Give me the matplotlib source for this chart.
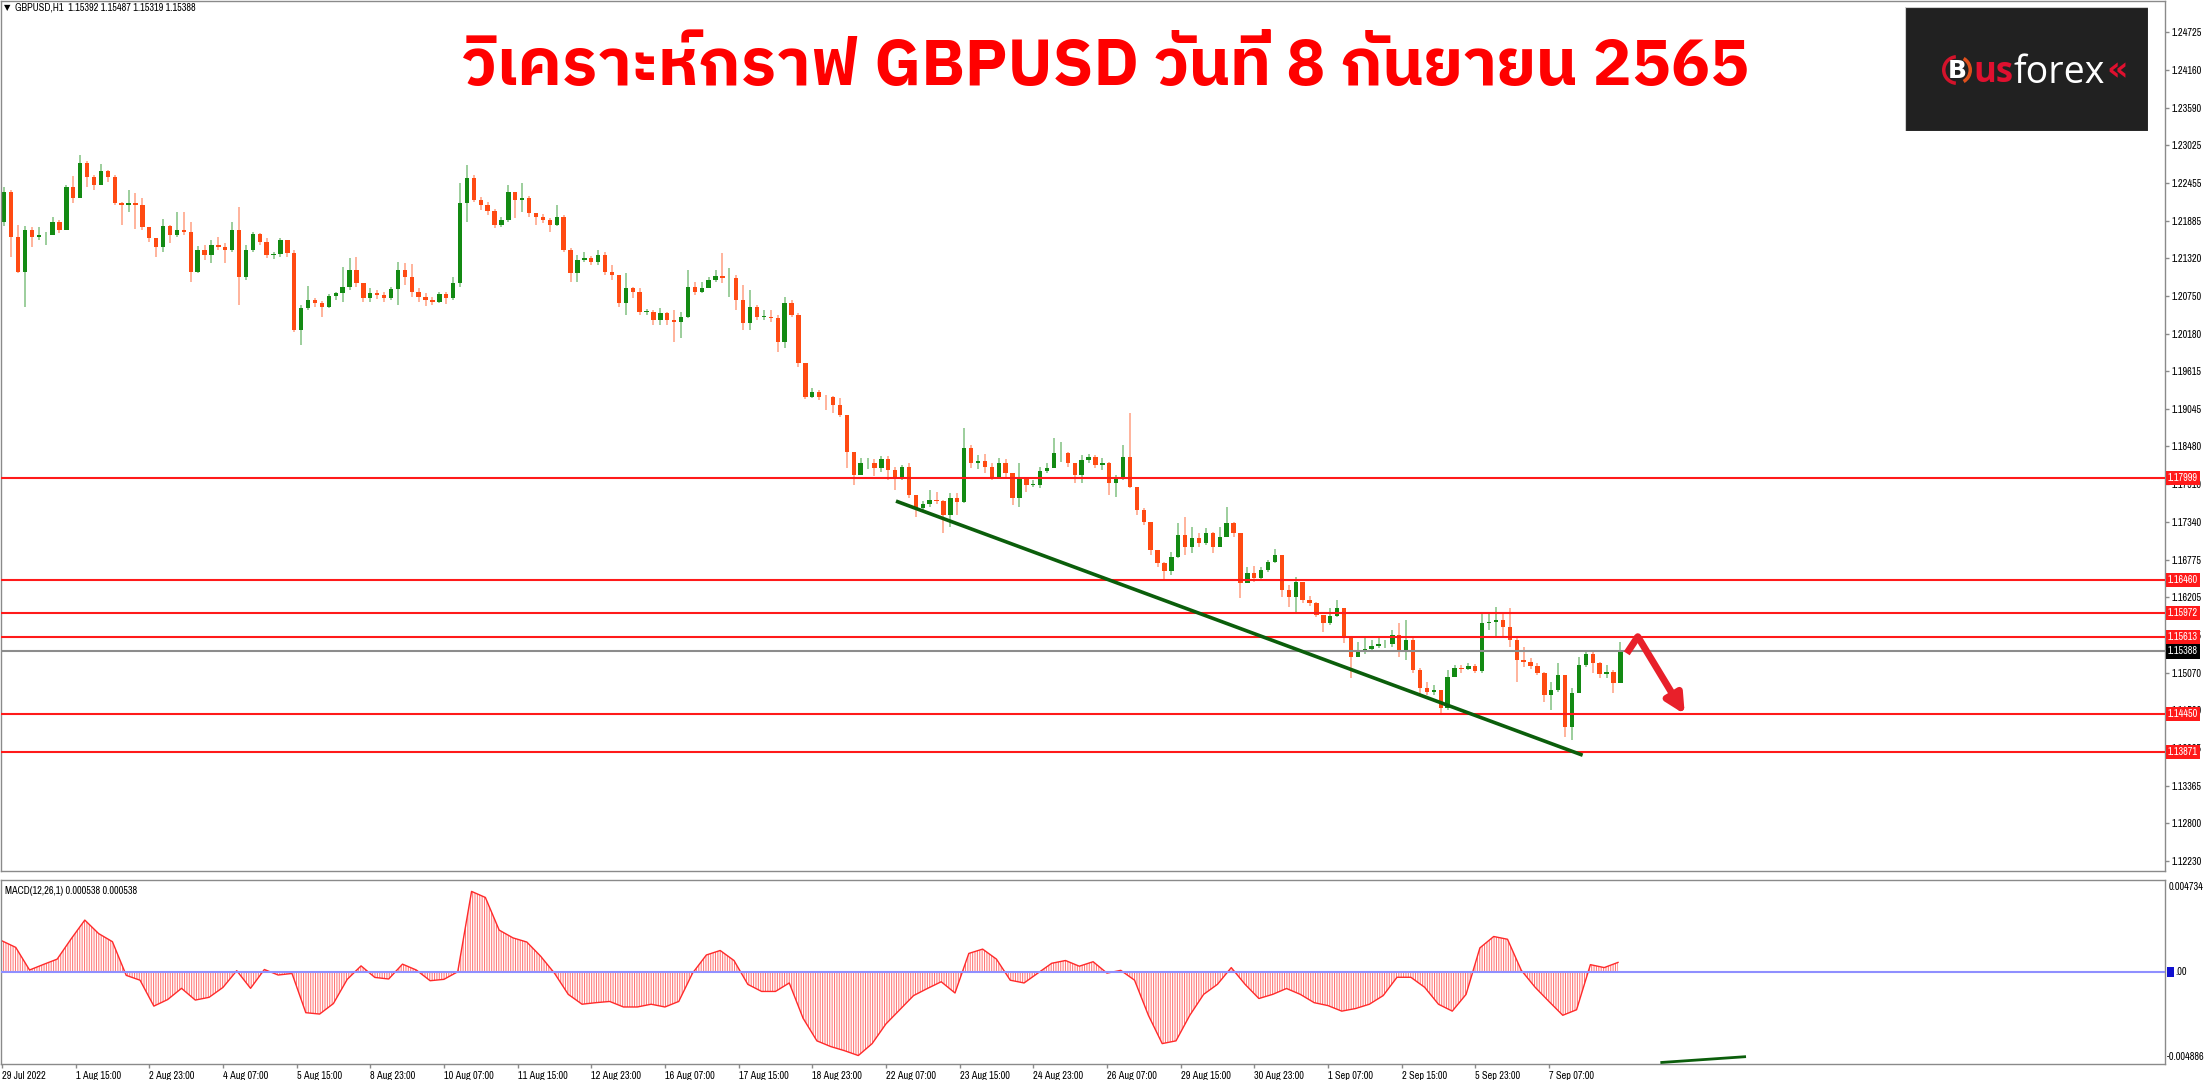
"""GBPUSD H1 chart with support lines, trendline and MACD panel."""

import numpy as np
import matplotlib
matplotlib.use("Agg")
import matplotlib.pyplot as plt
from matplotlib import font_manager
from matplotlib.font_manager import FontProperties
from matplotlib.ft2font import FT2Font
from matplotlib.patches import Rectangle, Wedge
from matplotlib.transforms import blended_transform_factory

W, H = 2209, 1080

# --- data -------------------------------------------------------------------
BARS_PER_CANDLE = 3
FIRST_OPEN = 1.21870
CLOSES = [
    1.22323, 1.21644, 1.21116, 1.21744, 1.21644, 1.21669, 1.21669, 1.21870, 1.21744, 1.22398,
    1.22222, 1.22750, 1.22549, 1.22423, 1.22639, 1.22549, 1.22147, 1.22122, 1.22147, 1.22122,
    1.21795, 1.21619, 1.21493, 1.21805, 1.21669, 1.21744, 1.21719, 1.21116, 1.21443, 1.21367,
    1.21518, 1.21493, 1.21443, 1.21744, 1.21041, 1.21443, 1.21684, 1.21569, 1.21367, 1.21382,
    1.21594, 1.21393, 1.20236, 1.20563, 1.20688, 1.20648, 1.20588, 1.20749, 1.20789, 1.20890,
    1.21141, 1.20940, 1.20714, 1.20789, 1.20764, 1.20714, 1.20849, 1.21141, 1.21041, 1.20814,
    1.20739,
    1.20689, 1.20664, 1.20780, 1.20714, 1.20941, 1.22148, 1.22525, 1.22198, 1.22122, 1.22037,
    1.21821, 1.21896, 1.22324, 1.22198, 1.22223, 1.21997, 1.21946, 1.21896, 1.21821, 1.21946,
    1.21444, 1.21092, 1.21293, 1.21318, 1.21268, 1.21368, 1.21117, 1.21067, 1.20639, 1.20865,
    1.20815, 1.20513, 1.20513, 1.20388, 1.20488, 1.20388, 1.20363, 1.20438, 1.20891, 1.20815,
    1.20865, 1.20991, 1.21052, 1.21016, 1.21016, 1.20689, 1.20337, 1.20589, 1.20438, 1.20438,
    1.20413, 1.20061, 1.20639, 1.20463, 1.19734, 1.19231, 1.19307, 1.19231, 1.19221,
    1.19106, 1.18955, 1.18402, 1.18050, 1.18226, 1.18226, 1.18151, 1.18286, 1.18126, 1.18025,
    1.18166, 1.17748, 1.17557, 1.17613, 1.17673, 1.17663, 1.17447, 1.17698, 1.17648, 1.18452,
    1.18226, 1.18266, 1.18176, 1.18025, 1.18236, 1.18075, 1.17698, 1.18025, 1.17899, 1.17899,
    1.18115, 1.18151, 1.18377, 1.18377, 1.18226, 1.18050, 1.18276, 1.18317, 1.18201, 1.18236,
    1.17924, 1.18000, 1.18327, 1.17874, 1.17522, 1.17346, 1.16919, 1.16718, 1.16607, 1.16818,
    1.17145, 1.16969, 1.17095, 1.17019, 1.17170, 1.16969, 1.17120, 1.17321, 1.17170,
    1.16415, 1.16566, 1.16491, 1.16616, 1.16742, 1.16843, 1.16315, 1.16214, 1.16440, 1.16164,
    1.16114, 1.15938, 1.15812, 1.15922, 1.16038, 1.15611, 1.15309, 1.15384, 1.15420, 1.15470,
    1.15500, 1.15500, 1.15636, 1.15410, 1.15560, 1.15108, 1.14831, 1.14781, 1.14806, 1.14530,
    1.15007, 1.15133, 1.15118, 1.15168, 1.15098, 1.15812, 1.15837, 1.15862, 1.15761, 1.15560,
    1.15259, 1.15234, 1.15168, 1.15068, 1.14731, 1.14806, 1.15033, 1.14253, 1.14756, 1.15183,
    1.15349, 1.15208, 1.15048, 1.15083, 1.14907, 1.15388,
]
HIGHS = [
    1.22398, 1.22348, 1.21820, 1.21805, 1.21785, 1.21785, 1.21719, 1.21936, 1.21895, 1.22423,
    1.22559, 1.22876, 1.22790, 1.22574, 1.22735, 1.22650, 1.22574, 1.22172, 1.22348, 1.22298,
    1.22222, 1.21669, 1.21619, 1.21905, 1.21820, 1.22021, 1.22021, 1.21870, 1.21503, 1.21518,
    1.21594, 1.21634, 1.21543, 1.21870, 1.22096, 1.21518, 1.21719, 1.21694, 1.21619, 1.21418,
    1.21629, 1.21569, 1.21443, 1.20613, 1.20905, 1.20714, 1.20678, 1.20779, 1.20814, 1.21191,
    1.21317, 1.21332, 1.20915, 1.20864, 1.20839, 1.20814, 1.20890, 1.21257, 1.21242, 1.21232,
    1.20864,
    1.20790, 1.20740, 1.20815, 1.20815, 1.21041, 1.22449, 1.22726, 1.22575, 1.22248, 1.22173,
    1.22057, 1.21946, 1.22424, 1.22273, 1.22449, 1.22258, 1.21997, 1.21982, 1.21921, 1.22122,
    1.21972, 1.21469, 1.21368, 1.21419, 1.21353, 1.21444, 1.21419, 1.21217, 1.21067, 1.21092,
    1.20891, 1.20865, 1.20549, 1.20539, 1.20564, 1.20513, 1.20539, 1.20513, 1.21142, 1.20966,
    1.20966, 1.21041, 1.21142, 1.21393, 1.21167, 1.21067, 1.20916, 1.20840, 1.20614, 1.20539,
    1.20539, 1.20463, 1.20740, 1.20689, 1.20488, 1.19734, 1.19357, 1.19332, 1.19256,
    1.19242, 1.19206, 1.18955, 1.18301, 1.18301, 1.18301, 1.18286, 1.18337, 1.18337, 1.18166,
    1.18201, 1.18226, 1.17748, 1.17663, 1.17824, 1.17799, 1.17673, 1.17784, 1.17774, 1.18754,
    1.18503, 1.18352, 1.18367, 1.18226, 1.18301, 1.18286, 1.18050, 1.18226, 1.17985, 1.17975,
    1.18166, 1.18226, 1.18603, 1.18553, 1.18402, 1.18201, 1.18352, 1.18367, 1.18352, 1.18301,
    1.18251, 1.18050, 1.18503, 1.18980, 1.17874, 1.17547, 1.17346, 1.16919, 1.16743, 1.16894,
    1.17321, 1.17422, 1.17271, 1.17170, 1.17246, 1.17195, 1.17271, 1.17572, 1.17346,
    1.17119, 1.16667, 1.16677, 1.16657, 1.16767, 1.16928, 1.16843, 1.16390, 1.16516, 1.16440,
    1.16224, 1.16139, 1.15938, 1.16038, 1.16164, 1.16038, 1.15611, 1.15535, 1.15586, 1.15560,
    1.15586, 1.15560, 1.15711, 1.15812, 1.15862, 1.15586, 1.15133, 1.14932, 1.14882, 1.14806,
    1.15108, 1.15183, 1.15183, 1.15208, 1.15198, 1.15988, 1.15988, 1.16063, 1.15963, 1.16038,
    1.15586, 1.15460, 1.15284, 1.15208, 1.15083, 1.14932, 1.15208, 1.15033, 1.14831, 1.15309,
    1.15384, 1.15410, 1.15234, 1.15183, 1.15108, 1.15535,
]
LOWS = [
    1.21805, 1.21342, 1.21091, 1.20588, 1.21483, 1.21594, 1.21518, 1.21719, 1.21694, 1.21870,
    1.22147, 1.22398, 1.22398, 1.22348, 1.22473, 1.22473, 1.22122, 1.21820, 1.22021, 1.21754,
    1.21744, 1.21569, 1.21342, 1.21418, 1.21543, 1.21644, 1.21669, 1.20965, 1.21091, 1.21292,
    1.21252, 1.21443, 1.21242, 1.21418, 1.20613, 1.20990, 1.21418, 1.21518, 1.21317, 1.21302,
    1.21342, 1.21342, 1.20211, 1.20010, 1.20538, 1.20588, 1.20437, 1.20563, 1.20688, 1.20663,
    1.20839, 1.20890, 1.20663, 1.20663, 1.20699, 1.20663, 1.20688, 1.20613, 1.20915, 1.20739,
    1.20663,
    1.20599, 1.20614, 1.20639, 1.20629, 1.20689, 1.20891, 1.21871, 1.22173, 1.22047, 1.21972,
    1.21770, 1.21796, 1.21871, 1.21921, 1.22022, 1.21946, 1.21821, 1.21846, 1.21720, 1.21806,
    1.21419, 1.20966, 1.20966, 1.21268, 1.21217, 1.21217, 1.21067, 1.20991, 1.20589, 1.20463,
    1.20714, 1.20463, 1.20463, 1.20312, 1.20312, 1.20312, 1.20061, 1.20111, 1.20413, 1.20765,
    1.20790, 1.20865, 1.20966, 1.20941, 1.20740, 1.20539, 1.20237, 1.20237, 1.20388, 1.20388,
    1.20363, 1.19910, 1.19960, 1.20438, 1.19684, 1.19191, 1.19206, 1.19181, 1.19030,
    1.18980, 1.18920, 1.18151, 1.17899, 1.18050, 1.18136, 1.18035, 1.18100, 1.17975, 1.17824,
    1.17975, 1.17698, 1.17422, 1.17497, 1.17572, 1.17613, 1.17170, 1.17271, 1.17447, 1.17623,
    1.18151, 1.18136, 1.18085, 1.17975, 1.18025, 1.18025, 1.17598, 1.17572, 1.17799, 1.17874,
    1.17849, 1.18085, 1.18151, 1.18251, 1.18166, 1.17924, 1.17924, 1.18226, 1.18151, 1.18126,
    1.17748, 1.17723, 1.17975, 1.17849, 1.17447, 1.17296, 1.16843, 1.16667, 1.16466, 1.16542,
    1.16793, 1.16843, 1.16869, 1.16969, 1.16994, 1.16869, 1.16969, 1.17120, 1.17120,
    1.16189, 1.16415, 1.16440, 1.16465, 1.16591, 1.16717, 1.16214, 1.16063, 1.15988, 1.16114,
    1.16073, 1.15912, 1.15686, 1.15787, 1.15912, 1.15520, 1.14982, 1.15309, 1.15349, 1.15400,
    1.15435, 1.15435, 1.15460, 1.15309, 1.15259, 1.15068, 1.14746, 1.14731, 1.14731, 1.14429,
    1.14505, 1.15007, 1.15068, 1.15108, 1.15058, 1.15068, 1.15711, 1.15611, 1.15611, 1.15460,
    1.14932, 1.15158, 1.15118, 1.15033, 1.14630, 1.14505, 1.14781, 1.14102, 1.14052, 1.14756,
    1.15158, 1.15058, 1.14982, 1.14982, 1.14756, 1.14907,
]

BARS_PER_MACD = 6
MACD = [
    0.00179, 0.00141, 0.00010, 0.00042, 0.00073, 0.00189, 0.00299, 0.00221, 0.00174, -0.00021,
    -0.00049, -0.00199, -0.00161, -0.00096, -0.00164, -0.00148, -0.00091, 0.00006, -0.00096, 0.00013,
    -0.00019, -0.00010, -0.00237, -0.00245, -0.00184, -0.00044, 0.00034, -0.00033, -0.00042, 0.00044,
    0.00010, -0.00052, -0.00044, 0.00000, 0.00465, 0.00430, 0.00241, 0.00196, 0.00172, 0.00090,
    -0.00008, -0.00131, -0.00188, -0.00179, -0.00172, -0.00204, -0.00204, -0.00188, -0.00204, -0.00172,
    -0.00008, 0.00097, 0.00123, 0.00065, -0.00073, -0.00114, -0.00114, -0.00065, -0.00269, -0.00400,
    -0.00433, -0.00457, -0.00485, -0.00416, -0.00302, -0.00220, -0.00138, -0.00097, -0.00058, -0.00123,
    0.00106, 0.00131, 0.00073, -0.00049, -0.00065, -0.00008, 0.00049, 0.00065, 0.00032, 0.00058,
    -0.00008, 0.00008, -0.00049, -0.00252, -0.00416, -0.00400, -0.00252, -0.00131, -0.00073, 0.00024,
    -0.00073, -0.00155, -0.00131, -0.00097, -0.00131, -0.00179, -0.00196, -0.00228, -0.00213, -0.00188,
    -0.00138, -0.00032, -0.00032, -0.00090, -0.00188, -0.00228, -0.00131, 0.00138, 0.00204, 0.00188,
    0.00008, -0.00090, -0.00172, -0.00252, -0.00220, 0.00041, 0.00024, 0.00054,
]

LEVELS = [1.17999, 1.16460, 1.15972, 1.15613, 1.14450, 1.13871]
LAST_PRICE = 1.15388
PRICE_TICKS = [1.24725, 1.24160, 1.23590, 1.23025, 1.22455, 1.21885, 1.21320, 1.20750,
               1.20180, 1.19615, 1.19045, 1.18480, 1.17910, 1.17340, 1.16775, 1.16205,
               1.15635, 1.15070, 1.14500, 1.13935, 1.13365, 1.12800, 1.12230]
BARS_PER_LABEL = 32
DATE_LABELS = ["29 Jul 2022", "1 Aug 15:00", "2 Aug 23:00", "4 Aug 07:00", "5 Aug 15:00",
               "8 Aug 23:00", "10 Aug 07:00", "11 Aug 15:00", "12 Aug 23:00", "16 Aug 07:00",
               "17 Aug 15:00", "18 Aug 23:00", "22 Aug 07:00", "23 Aug 15:00", "24 Aug 23:00",
               "26 Aug 07:00", "29 Aug 15:00", "30 Aug 23:00", "1 Sep 07:00", "2 Sep 15:00",
               "5 Sep 23:00", "7 Sep 07:00"]
MACD_MAX, MACD_MIN, MACD_LAST = 0.004734, -0.004886, 0.000538
HEADER = "GBPUSD,H1  1.15392 1.15487 1.15319 1.15388"
TITLE = "วิเคราะห์กราฟ GBPUSD วันที่ 8 กันยายน 2565"

BULL, BEAR = "#138a13", "#ff4a12"
FRAME = "#8a8a8a"


def thai_family():
    found = []
    for entry in font_manager.fontManager.ttflist:
        try:
            cmap = FT2Font(entry.fname).get_charmap()
        except Exception:
            continue
        if 0x0E01 in cmap:
            weight = entry.weight if isinstance(entry.weight, (int, float)) else 400
            name = entry.name
            found.append(("Sans Thai" in name and "Looped" not in name, "Serif" not in name,
                          "Looped" not in name, weight, name))
    return max(found)[-1] if found else "DejaVu Sans"


def small_font(size):
    # MT4 labels are narrow; use a narrow face if one is installed
    for entry in font_manager.fontManager.ttflist:
        name = entry.name
        if ("Narrow" in name or "Condensed" in name) and entry.style == "normal" \
                and entry.weight in (400, "normal", "regular", "book"):
            return FontProperties(fname=entry.fname, size=size)
    return FontProperties(family="Liberation Sans", size=size * 0.86)


fig = plt.figure(figsize=(W / 100, H / 100), dpi=100)
plt.rcParams["hatch.linewidth"] = 0.75
LABEL = small_font(7.4)


def px_axes(x0, y0, x1, y1):
    return fig.add_axes([x0 / W, 1 - y1 / H, (x1 - x0) / W, (y1 - y0) / H])


def frame(ax):
    for side in ax.spines.values():
        side.set_color(FRAME)
        side.set_linewidth(1.0)


# --- price panel --------------------------------------------------------------
ax = px_axes(1, 1, 2165, 871)
ax.set_xlim(-0.4, 939.6)
ax.set_ylim(1.12077, 1.25199)
frame(ax)

closes = np.array(CLOSES)
opens = np.concatenate([[FIRST_OPEN], closes[:-1]])
highs = np.maximum(np.array(HIGHS), np.maximum(opens, closes))
lows = np.minimum(np.array(LOWS), np.minimum(opens, closes))
x = np.arange(len(closes)) * BARS_PER_CANDLE + 1
colors = np.where(closes >= opens, BULL, BEAR)
ax.vlines(x, lows, highs, colors=colors, lw=1.3, alpha=0.45, zorder=2)
ax.bar(x, np.maximum(np.abs(closes - opens), 0.00008), bottom=np.minimum(opens, closes),
       width=1.9, color=colors, linewidth=0, zorder=2.1)

for lvl in LEVELS:
    ax.axhline(lvl, color="#ff1a1a", lw=1.5, zorder=3)
ax.axhline(LAST_PRICE, color="#8c8c8c", lw=1.5, zorder=3)

# trendline and projected move
ax.plot([389.1, 685.9], [1.17647, 1.13833], color="#0b5e0b", lw=2.6, zorder=4)
ax.plot([705.8, 710.6], [1.15360, 1.15611], color="#e8202a", lw=5, solid_capstyle="butt", zorder=4)
ax.annotate("", xy=(731, 1.14440), xytext=(710.6, 1.15611), zorder=4,
            arrowprops=dict(arrowstyle="-|>", color="#e8202a", lw=5, mutation_scale=28,
                            shrinkA=0, shrinkB=0))

ax.set_xticks([])
ax.yaxis.tick_right()
ax.set_yticks(PRICE_TICKS)
ax.set_yticklabels([f"{t:.5f}" for t in PRICE_TICKS], fontproperties=LABEL)
ax.tick_params(axis="y", length=3, width=1, color=FRAME, pad=2)

edge = blended_transform_factory(ax.transAxes, ax.transData)
for lvl in LEVELS:
    ax.text(1.0012, lvl, f"{lvl:.5f}", transform=edge, ha="left", va="center", color="white",
            fontproperties=LABEL, clip_on=False, zorder=6,
            bbox=dict(boxstyle="square,pad=0.2", fc="#ff1a1a", ec="none"))
ax.text(1.0012, LAST_PRICE, f"{LAST_PRICE:.5f}", transform=edge, ha="left", va="center",
        color="white", fontproperties=LABEL, clip_on=False, zorder=6,
        bbox=dict(boxstyle="square,pad=0.2", fc="black", ec="none"))

fig.text(4 / W, 1 - 3 / H, "\u25bc", ha="left", va="top", fontsize=6, family="DejaVu Sans")
fig.text(15 / W, 1 - 3 / H, HEADER, ha="left", va="top", fontproperties=LABEL)
fig.text(1106 / W, 1 - 68 / H, TITLE, ha="center", va="center", fontsize=47,
         color="#ff0000", weight="bold", family=[thai_family(), "DejaVu Sans"])

# --- MACD panel ---------------------------------------------------------------
axm = px_axes(1, 880, 2165, 1064)
axm.set_xlim(-0.4, 939.6)
axm.set_ylim(-0.00534, 0.00531)
frame(axm)
macd = np.array(MACD)
xm = np.arange(len(macd)) * BARS_PER_MACD
axm.fill_between(xm, 0, macd, facecolor="none", edgecolor="#ff7878", hatch="|" * 7,
                 linewidth=0, zorder=1)
axm.plot(xm, macd, color="#ff2a2a", lw=1.0, zorder=2)
axm.axhline(0, color="#8f8fff", lw=1.5, zorder=3)
axm.plot([721, 757], [-0.00525, -0.00492], color="#0b5e0b", lw=2, zorder=4, clip_on=False)

axm.set_yticks([])
axm.set_xticks(np.arange(len(DATE_LABELS)) * BARS_PER_LABEL)
axm.set_xticklabels(DATE_LABELS, ha="left", fontproperties=LABEL)
axm.tick_params(axis="x", length=3, width=1, color=FRAME, pad=2)

axm.text(0.002, 0.965, f"MACD(12,26,1) {MACD_LAST:.6f} {MACD_LAST:.6f}", transform=axm.transAxes,
         ha="left", va="top", fontproperties=LABEL)
fig.text(2169 / W, 1 - 882 / H, f"{MACD_MAX:.6f}", ha="left", va="top", fontproperties=LABEL)
fig.text(2167 / W, 1 - 1062 / H, f"{MACD_MIN:.6f}", ha="left", va="bottom", fontproperties=LABEL)
fig.text(2175 / W, 1 - 972 / H, ".00", ha="left", va="center", fontproperties=LABEL)
fig.add_artist(Rectangle((2167 / W, 1 - 977 / H), 7 / W, 10 / H, transform=fig.transFigure,
                         fc="#1010d0", ec="none"))

# --- logo ---------------------------------------------------------------------
logo = px_axes(1905, 7, 2148, 131)
logo.set_xlim(0, 243)
logo.set_ylim(124, 0)
logo.set_axis_off()
logo.add_patch(Rectangle((0, 0), 243, 124, fc="#212121", ec="#cfcfcf", lw=0.8))
logo.add_patch(Wedge((52, 63), 15, 95, 265, width=3.5, fc="#d4132b"))
logo.add_patch(Wedge((52, 63), 15, 300, 60, width=3.5, fc="#e0501c"))
logo.text(52, 64, "B", ha="center", va="center", color="white", fontsize=18, weight="bold",
          family="DejaVu Sans")

renderer = fig.canvas.get_renderer()
to_data = logo.transData.inverted()
us = logo.text(68, 66, "us", ha="left", va="center", color="#e0102f", fontsize=25,
               weight="bold", family="Open Sans")
us_right = to_data.transform(us.get_window_extent(renderer).get_points())[1, 0]
forex = logo.text(us_right + 0.5, 66, "forex", ha="left", va="center", color="white",
                  fontsize=27, family="Open Sans")
forex_right = to_data.transform(forex.get_window_extent(renderer).get_points())[1, 0]
logo.text(forex_right + 1, 64, "\u00ab", ha="left", va="center", color="#e0102f", fontsize=24,
          weight="bold", family="DejaVu Sans")

fig.savefig("out.png", dpi=100)
